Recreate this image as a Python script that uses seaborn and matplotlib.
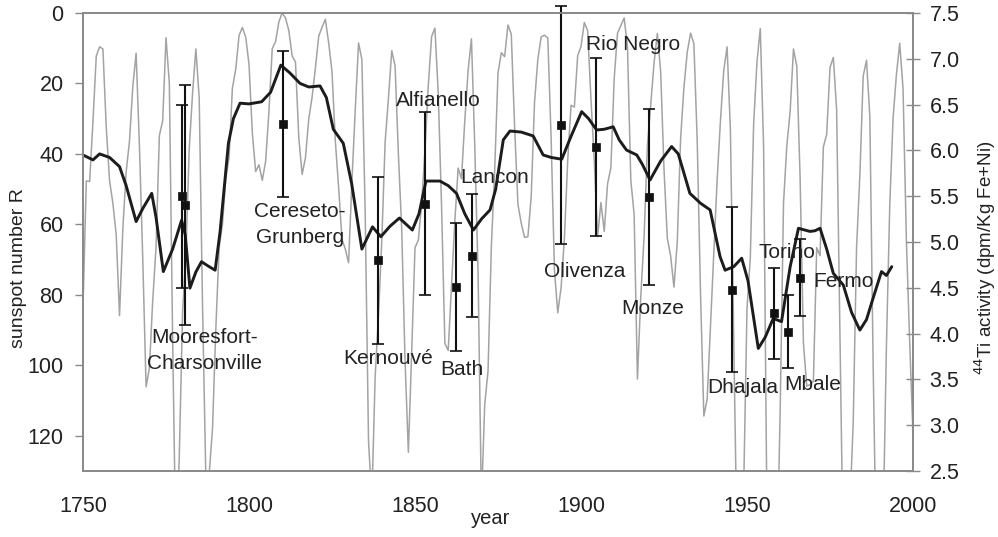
import numpy as np
import pandas as pd
import matplotlib
matplotlib.use("Agg")
import matplotlib.pyplot as plt
import seaborn as sns

# ---------------- data ----------------
# yearly sunspot number R (grey curve, left axis, inverted)
ss_years = list(range(1749, 2001))
ss_values = [
    80.9, 83.4, 47.7, 47.8, 30.7, 12.2, 9.6, 10.2, 32.4, 47.6,
    54.0, 62.9, 85.9, 61.2, 45.1, 36.4, 20.9, 11.4, 37.8, 69.8,
    106.1, 100.8, 81.6, 66.5, 34.8, 30.6, 7.0, 19.8, 92.5, 154.4,
    125.9, 84.8, 68.1, 38.5, 22.8, 10.2, 24.1, 82.9, 132.0, 130.9,
    118.1, 89.9, 66.6, 60.0, 46.9, 41.0, 21.3, 16.0, 6.4, 4.1,
    6.8, 14.5, 34.0, 45.0, 43.1, 47.5, 42.2, 28.1, 10.1, 8.1,
    2.5, 0.0, 1.4, 5.0, 12.2, 13.9, 35.4, 45.8, 41.1, 30.1,
    23.9, 15.6, 6.6, 4.0, 1.8, 8.5, 16.6, 36.3, 49.6, 64.2,
    67.0, 70.9, 47.8, 27.5, 8.5, 13.2, 56.9, 121.5, 138.3, 103.2,
    85.7, 64.6, 36.7, 24.2, 10.7, 15.0, 40.1, 61.5, 98.5, 124.7,
    96.3, 66.6, 64.5, 54.1, 39.0, 20.6, 6.7, 4.3, 22.7, 54.8,
    93.8, 95.8, 77.2, 59.1, 44.0, 47.0, 30.5, 16.3, 7.3, 37.6,
    74.0, 139.0, 111.2, 101.6, 66.2, 44.7, 17.0, 11.3, 12.4, 3.4,
    6.0, 32.3, 54.3, 59.7, 63.7, 63.5, 52.2, 25.4, 13.1, 6.8,
    6.3, 7.1, 35.6, 73.0, 85.1, 78.0, 64.0, 41.8, 26.2, 26.7,
    12.1, 9.5, 2.7, 5.0, 24.4, 42.0, 63.5, 53.8, 62.0, 48.5,
    43.9, 18.6, 5.7, 3.6, 1.4, 9.6, 47.4, 57.1, 103.9, 80.6,
    63.6, 37.6, 26.1, 14.2, 5.8, 16.7, 44.3, 63.9, 69.0, 77.8,
    64.9, 35.7, 21.2, 11.1, 5.7, 8.7, 36.1, 79.7, 114.4, 109.6,
    88.8, 67.8, 47.5, 30.6, 16.3, 9.6, 33.2, 92.6, 151.6, 136.3,
    134.7, 83.9, 69.4, 31.5, 13.9, 4.4, 38.0, 141.7, 190.2, 184.8,
    159.0, 112.3, 53.9, 37.6, 27.9, 10.2, 15.1, 47.0, 93.8, 105.9,
    105.5, 104.5, 66.6, 68.9, 38.0, 34.5, 15.5, 12.6, 27.5, 92.5,
    155.4, 154.6, 140.4, 115.9, 66.6, 45.9, 17.9, 13.4, 29.4, 100.2,
    157.6, 142.6, 145.7, 94.3, 54.6, 29.9, 17.5, 8.6, 21.5, 64.3,
    93.3, 119.6,
]

# smoothed black curve (read in left-axis units)
smooth_years = [1750, 1753, 1755, 1758, 1761, 1763, 1766, 1768, 1770.7, 1772,
                1774.2, 1777, 1779.7, 1780.8, 1782.2, 1784, 1785.7, 1788, 1789.8, 1791.3,
                1793.8, 1795.3, 1797.3, 1800, 1803.8, 1806.5, 1809.6, 1812.3, 1815.4, 1818,
                1821.4, 1823.3, 1825.4, 1828.4, 1830.9, 1834, 1837.2, 1839.7, 1842.5, 1845.3,
                1849.2, 1851.2, 1853.3, 1857.5, 1860, 1862.5, 1865, 1867.6, 1870, 1872.6,
                1874.3, 1876.6, 1878.6, 1882, 1885.6, 1888.6, 1891, 1894.2, 1897, 1900.2,
                1902.3, 1904.7, 1907, 1909.7, 1911.5, 1913.7, 1916.8, 1918.5, 1920.8, 1924,
                1927.3, 1929.3, 1932.8, 1936, 1938.9, 1941.9, 1943.4, 1946, 1948.4, 1950.3,
                1953.4, 1955.5, 1957.9, 1960.4, 1963, 1965.5, 1967, 1969, 1970.5, 1972,
                1974, 1976, 1979, 1981.5, 1984, 1986, 1987.5, 1990.5, 1992, 1993.6]
smooth_R = [40.3, 41.7, 40.0, 41.0, 43.6, 49.0, 59.2, 55.5, 51.2, 58.0,
            73.4, 67.0, 58.8, 63.0, 78.1, 73.5, 70.6, 72.0, 73.0, 62.0,
            37.0, 30.0, 25.6, 25.8, 25.2, 22.5, 14.8, 17.0, 20.0, 21.0,
            20.7, 24.0, 33.0, 37.0, 48.3, 67.0, 60.7, 63.5, 60.5, 58.2,
            61.6, 57.0, 47.7, 47.7, 49.0, 51.2, 57.0, 61.6, 58.5, 55.9,
            50.0, 36.0, 33.5, 33.8, 34.9, 40.3, 41.0, 41.5, 35.0, 28.0,
            30.0, 33.2, 33.0, 32.3, 36.0, 38.9, 40.3, 43.0, 47.4, 42.0,
            37.9, 40.0, 51.2, 54.0, 55.9, 69.2, 73.0, 72.0, 69.6, 76.0,
            95.2, 92.0, 86.7, 87.6, 72.0, 61.1, 61.5, 62.0, 61.8, 61.1,
            67.0, 73.9, 77.2, 85.0, 90.0, 87.0, 82.4, 73.4, 74.5, 72.0]

# meteorites: 44Ti activity (right axis)
met_names = ["Mooresfort-\nCharsonville", "", "Cereseto-\nGrunberg", "Kernouvé",
             "Alfianello", "Bath", "Lancon", "Olivenza", "Rio Negro", "Monze",
             "Dhajala", "Torino", "Mbale", "Fermo"]
met_year = [1779.8, 1780.7, 1810.2, 1838.9, 1853.0, 1862.2, 1867.3, 1894.0,
            1904.5, 1920.5, 1945.4, 1958.1, 1962.2, 1966.1]
met_ti = [5.50, 5.40, 6.29, 4.80, 5.42, 4.51, 4.85, 6.28, 6.04, 5.49,
          4.48, 4.22, 4.02, 4.61]
met_err = [1.00, 1.31, 0.80, 0.91, 1.00, 0.70, 0.67, 1.30, 0.97, 0.96,
           0.90, 0.50, 0.40, 0.42]
# label offsets (pixels) from the marker
label_dx = [23, 0, 17, 10, 13, 6, 22, 24, 37, 4, 11, 13, 25, 43]
label_dy = [-154, 0, -101, -98, 103, -83, 78, -147, 102, -111, -98, 61, -53, -4]

# ---------------- plot ----------------
sns.set_style("white")
plt.rcParams['font.family'] = ['Liberation Sans', 'DejaVu Sans']
spine_c = '#8a8a8a'
txt_c = '#222222'

fig = plt.figure(figsize=(9.98, 5.37), dpi=100)
ax = fig.add_axes([83 / 998, 1 - 471 / 537, (913 - 83) / 998, (471 - 13) / 537])

df_ss = pd.DataFrame({"year": ss_years, "R": ss_values})
df_sm = pd.DataFrame({"year": smooth_years, "R": smooth_R})
sns.lineplot(data=df_ss, x="year", y="R", color='#a3a3a3', lw=1.1, ax=ax)
sns.lineplot(data=df_sm, x="year", y="R", color='#1c1c1c', lw=2.1, ax=ax)

ax.set_xlim(1750, 2000)
ax.set_ylim(130, 0)
ax.set_xticks([1750, 1800, 1850, 1900, 1950, 2000])
ax.set_yticks([0, 20, 40, 60, 80, 100, 120])
ax.tick_params(axis='y', direction='out', length=6, width=1, color=spine_c,
               labelsize=15.5, labelcolor=txt_c, pad=8)
ax.tick_params(axis='x', direction='out', length=5, width=1, color=spine_c,
               labelsize=15.5, labelcolor=txt_c, pad=13)
ax.set_xlabel("year", fontsize=14.5, color=txt_c)
ax.set_ylabel("sunspot number R", fontsize=14, color=txt_c)
ax.xaxis.set_label_coords(0.4916, -0.083)
ax.yaxis.set_label_coords(-0.067, 0.443)

ax2 = ax.twinx()
ax2.set_ylim(2.5, 7.5)
ax2.errorbar(met_year, met_ti, yerr=met_err, fmt='none', ecolor='#111111',
             elinewidth=1.5, capsize=4, capthick=1.2, clip_on=False)
df_met = pd.DataFrame({"year": met_year, "ti": met_ti})
sns.scatterplot(data=df_met, x="year", y="ti", marker='s', s=40, color='#111111',
                edgecolor='#111111', ax=ax2, zorder=5)
ax2.set_yticks(np.arange(2.5, 7.51, 0.5))
ax2.set_yticklabels([f"{v:.1f}" for v in np.arange(2.5, 7.51, 0.5)])
ax2.tick_params(axis='y', direction='inout', length=10, width=1, color=spine_c,
                labelsize=15.5, labelcolor=txt_c, pad=7)
ax2.set_ylabel(r"$^{44}$Ti activity (dpm/Kg Fe+Ni)", fontsize=13.5, color=txt_c)
ax2.yaxis.set_label_coords(1.072, 0.465)
ax2.set_xlabel("")

for name, x, y, dx, dy in zip(met_names, met_year, met_ti, label_dx, label_dy):
    if name:
        ax2.annotate(name, (x, y), xytext=(dx, dy), textcoords='offset pixels',
                     ha='center', va='center', fontsize=15, color=txt_c,
                     linespacing=1.45)

for a in (ax, ax2):
    for s in a.spines.values():
        s.set_color(spine_c)
        s.set_linewidth(1.3)

fig.savefig("out.png", dpi=100)
